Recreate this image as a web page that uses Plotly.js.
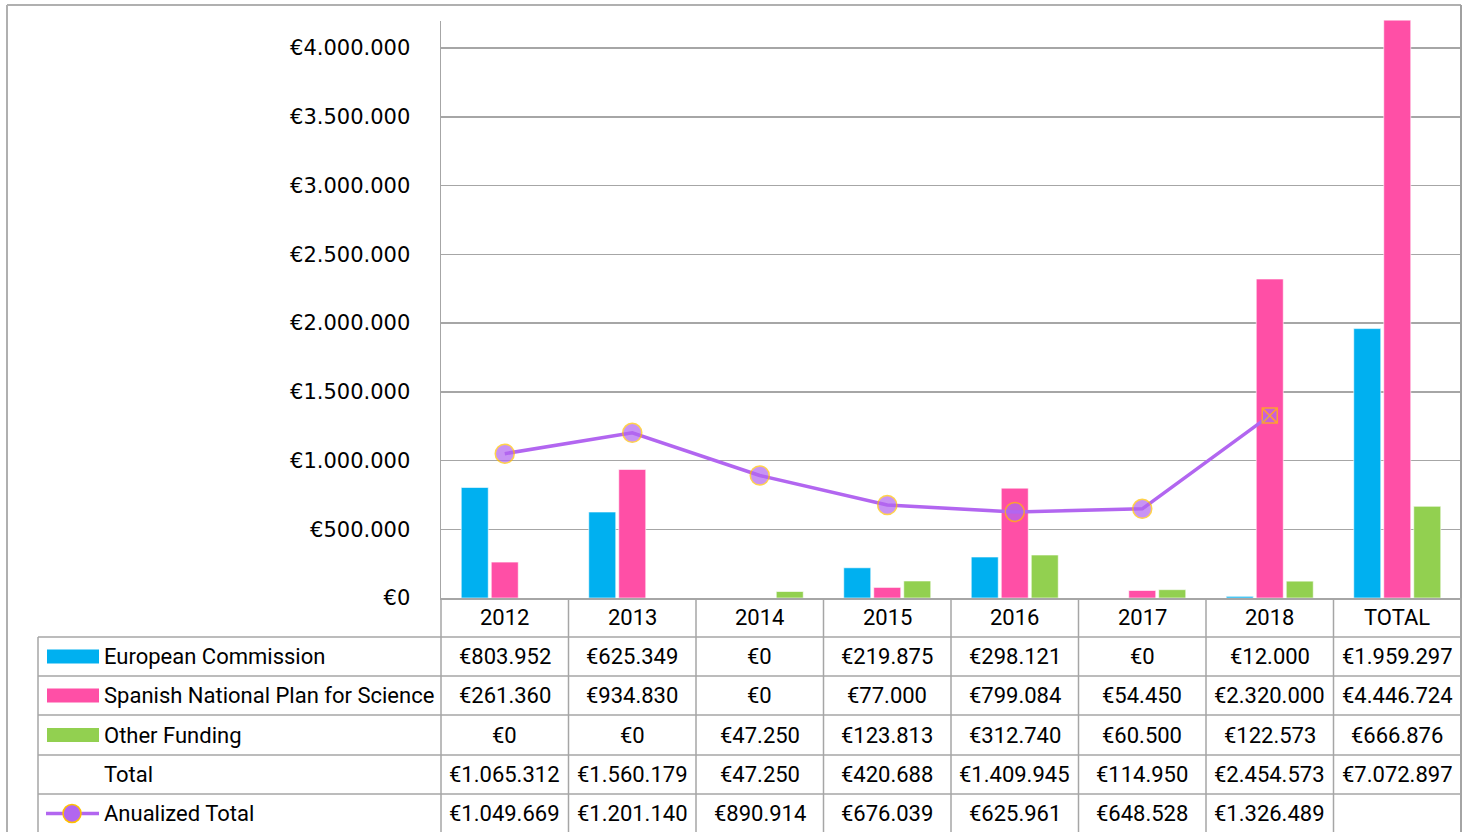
<!DOCTYPE html>
<html><head><meta charset="utf-8">
<script src="https://cdn.plot.ly/plotly-3.0.1.min.js"></script>
<style>html,body{margin:0;padding:0;background:#fff;}#chart{width:1469px;height:832px;}</style>
</head><body><div id="chart"></div>
<script>
const categories = ['2012','2013','2014','2015','2016','2017','2018','TOTAL'];
const europeanCommission = [803952, 625349, 0, 219875, 298121, 0, 12000, 1959297];
const spanishPlan = [261360, 934830, 0, 77000, 799084, 54450, 2320000, 4446724];
const otherFunding = [0, 0, 47250, 123813, 312740, 60500, 122573, 666876];
const totals = [1065312, 1560179, 47250, 420688, 1409945, 114950, 2454573, 7072897];
const lineCategories = ['2012','2013','2014','2015','2016','2017','2018'];
const anualizedTotal = [1049669, 1201140, 890914, 676039, 625961, 648528, 1326489];
const rowLabels = ['European Commission','Spanish National Plan for Science','Other Funding','Total','Anualized Total'];
const yTicks = [0, 500000, 1000000, 1500000, 2000000, 2500000, 3000000, 3500000, 4000000];

const W = 1469, H = 832;
const px = x => x / W;
const py = y => 1 - y / H;
const BLUE = '#00B0F0', PINK = '#FF4FA6', GREEN = '#92D050', PURPLE = '#B266F0', ORANGE = '#FFC000';
const GRID = '#A6A6A6';
const TFONT = {family: '"Liberation Sans Narrow", "Arial Narrow", Roboto, sans-serif', size: 22, color: '#000'};

function eur(v) {
  return '€' + String(v).replace(/\B(?=(\d{3})+(?!\d))/g, '.');
}
const catIndex = c => categories.indexOf(c);
const xBars = categories.map(catIndex);
const xLine = lineCategories.map(catIndex);

const barLine = {color: 'rgba(255,255,255,0.6)', width: 1};
const traces = [
  {type: 'bar', name: rowLabels[0], x: xBars, y: europeanCommission, marker: {color: BLUE, line: barLine}},
  {type: 'bar', name: rowLabels[1], x: xBars, y: spanishPlan, marker: {color: PINK, line: barLine}},
  {type: 'bar', name: rowLabels[2], x: xBars, y: otherFunding, marker: {color: GREEN, line: barLine}},
  {type: 'scatter', mode: 'lines+markers', name: rowLabels[4], x: xLine, y: anualizedTotal,
   line: {color: PURPLE, width: 3.5},
   marker: {color: PURPLE, size: xLine.map((c,i)=> i === xLine.length-1 ? 15 : 19),
            symbol: xLine.map((c,i)=> i === xLine.length-1 ? 'square-x' : 'circle'),
            line: {color: ORANGE, width: 1.5}}}
];

const xL = 441, xR = 1461, tableLeft = 38;
const rowTops = [598, 637, 676, 715, 755, 794, 833];
const colW = (xR - xL) / categories.length;

const shapes = [];
const annotations = [];
shapes.push({type:'line', xref:'paper', yref:'paper', x0:px(7), x1:px(1461), y0:py(5), y1:py(5), line:{color:'#B0B0B0', width:2}});
shapes.push({type:'line', xref:'paper', yref:'paper', x0:px(7), x1:px(7), y0:py(5), y1:py(840), line:{color:'#B0B0B0', width:2}});
shapes.push({type:'line', xref:'paper', yref:'paper', x0:px(1461), x1:px(1461), y0:py(5), y1:py(840), line:{color:'#A0A0A0', width:2}});
for (let r = 1; r < rowTops.length - 1; r++) {
  shapes.push({type:'line', xref:'paper', yref:'paper', x0:px(tableLeft), x1:px(xR), y0:py(rowTops[r]), y1:py(rowTops[r]), line:{color:GRID, width:1.5}});
}
for (let c = 0; c <= categories.length; c++) {
  const x = xL + c * colW;
  shapes.push({type:'line', xref:'paper', yref:'paper', x0:px(x), x1:px(x), y0:py(598), y1:py(840), line:{color:GRID, width:1.5}});
}
shapes.push({type:'line', xref:'paper', yref:'paper', x0:px(tableLeft), x1:px(tableLeft), y0:py(637), y1:py(840), line:{color:GRID, width:1.5}});

categories.forEach((c, i) => {
  annotations.push({x:i, xref:'x', y:py((rowTops[0]+rowTops[1])/2), yref:'paper', text:c, showarrow:false, font:TFONT, xanchor:'center', yanchor:'middle'});
});
const rows = [europeanCommission, spanishPlan, otherFunding, totals, anualizedTotal];
rows.forEach((vals, r) => {
  const yc = py((rowTops[r+1] + rowTops[r+2]) / 2);
  annotations.push({x:px(102), xref:'paper', y:yc, yref:'paper', text:rowLabels[r], showarrow:false, font:TFONT, xanchor:'left', yanchor:'middle'});
  vals.forEach((v, i) => {
    annotations.push({x:i, xref:'x', y:yc, yref:'paper', text:eur(v), showarrow:false, font:TFONT, xanchor:'center', yanchor:'middle'});
  });
});
const keyColors = [BLUE, PINK, GREEN];
keyColors.forEach((col, r) => {
  const yc = (rowTops[r+1] + rowTops[r+2]) / 2;
  shapes.push({type:'rect', xref:'paper', yref:'paper', x0:px(47), x1:px(99), y0:py(yc-7), y1:py(yc+7), fillcolor:col, line:{width:0}});
});
{
  const yc = (rowTops[5] + rowTops[6]) / 2;
  shapes.push({type:'line', xref:'paper', yref:'paper', x0:px(46), x1:px(99), y0:py(yc), y1:py(yc), line:{color:PURPLE, width:3.5}});
  shapes.push({type:'circle', xref:'paper', yref:'paper', x0:px(63), x1:px(81), y0:py(yc-9), y1:py(yc+9), fillcolor:PURPLE, line:{color:ORANGE, width:1.5}});
}

const layout = {
  width: W, height: H,
  margin: {l:0, r:0, t:0, b:0},
  paper_bgcolor: '#fff', plot_bgcolor: '#fff',
  showlegend: false,
  barmode: 'group', bargap: 0.294, bargroupgap: 0.1,
  xaxis: {type:'linear', range:[-0.5, categories.length - 0.5],
          domain:[px(xL), px(xR)], showticklabels:false, showgrid:false, zeroline:false,
          showline:true, linecolor:GRID, linewidth:1.5, fixedrange:true},
  yaxis: {type:'linear', domain:[py(598), py(20.5)], range:[0, 4200000],
          tickmode:'array', tickvals:yTicks, ticktext:yTicks.map(eur),
          showgrid:true, gridcolor:GRID, gridwidth:1.5, zeroline:false,
          showline:true, linecolor:GRID, linewidth:1.5, ticks:'', ticklabelstandoff:25,
          tickfont:{family:'"DejaVu Sans", sans-serif', size:21, color:'#000'}, fixedrange:true},
  shapes: shapes,
  annotations: annotations
};

Plotly.newPlot('chart', traces, layout, {displayModeBar:false, staticPlot:true});
</script>
</body></html>
